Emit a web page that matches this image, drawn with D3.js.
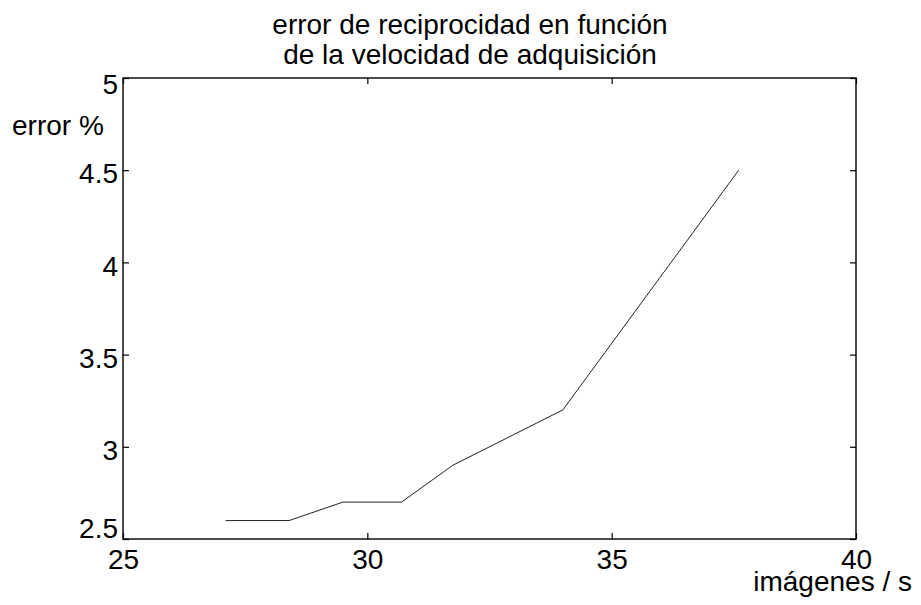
<!DOCTYPE html>
<html>
<head>
<meta charset="utf-8">
<script src="https://cdn.jsdelivr.net/npm/d3@7"></script>
<style>
  html, body { margin: 0; padding: 0; background: #fff; }
  svg { display: block; }
  text { font-family: "Liberation Sans", Arial, Helvetica, sans-serif; fill: #000; }
</style>
</head>
<body>
<script>
// ---- data ----
const xValues = [27.1, 28.4, 29.5, 30.7, 31.75, 34.0, 37.6];
const yValues = [2.6, 2.6, 2.7, 2.7, 2.9, 3.2, 4.5];
const xTicks = [25, 30, 35, 40];
const yTicks = [2.5, 3, 3.5, 4, 4.5, 5];
const titleLines = ["error de reciprocidad en función", "de la velocidad de adquisición"];
const yLabel = "error %";
const xLabel = "imágenes / s";

// ---- layout ----
const W = 921, H = 605;
const pL = 123, pR = 856, pT = 78, pB = 539;
const fontSize = 28;

const svg = d3.select("body").append("svg").attr("width", W).attr("height", H);
svg.append("rect").attr("width", W).attr("height", H).attr("fill", "#fff");

const x = d3.scaleLinear().domain([25, 40]).range([pL, pR]);
const y = d3.scaleLinear().domain([2.5, 5]).range([pB, pT]);

const tickLen = 6;

// bottom axis
const gx = svg.append("g").attr("transform", `translate(0,${pB})`)
  .call(d3.axisBottom(x).tickValues(xTicks).tickFormat(d3.format("d")).tickSizeInner(-tickLen).tickSizeOuter(0).tickPadding(0));
gx.select(".domain").remove();
gx.selectAll(".tick text").attr("y", 30).attr("dy", 0).style("font-size", fontSize + "px");

// top ticks
const gxt = svg.append("g").attr("transform", `translate(0,${pT})`)
  .call(d3.axisTop(x).tickValues(xTicks).tickFormat("").tickSizeInner(-tickLen).tickSizeOuter(0));
gxt.select(".domain").remove();

// left axis
const gy = svg.append("g").attr("transform", `translate(${pL},0)`)
  .call(d3.axisLeft(y).tickValues(yTicks).tickFormat(d => String(d)).tickSizeInner(-tickLen).tickSizeOuter(0).tickPadding(0));
gy.select(".domain").remove();
gy.selectAll(".tick text")
  .attr("x", -5)
  .attr("dy", d => d === 5 ? "0.55em" : (d === 2.5 ? "-0.05em" : "0.45em"))
  .style("font-size", fontSize + "px");

// right ticks
const gyr = svg.append("g").attr("transform", `translate(${pR},0)`)
  .call(d3.axisRight(y).tickValues(yTicks).tickFormat("").tickSizeInner(-tickLen).tickSizeOuter(0));
gyr.select(".domain").remove();

svg.selectAll(".tick line").attr("stroke", "#000").attr("stroke-width", 1.2);

// frame
svg.append("rect")
  .attr("x", pL).attr("y", pT)
  .attr("width", pR - pL).attr("height", pB - pT)
  .attr("fill", "none").attr("stroke", "#000").attr("stroke-width", 1.4);

// data line
const pts = xValues.map((v, i) => [v, yValues[i]]);
svg.append("path")
  .datum(pts)
  .attr("fill", "none")
  .attr("stroke", "#222")
  .attr("stroke-width", 1)
  .attr("d", d3.line().x(d => x(d[0])).y(d => y(d[1])));

// title
svg.append("text")
  .attr("x", 470).attr("text-anchor", "middle")
  .style("font-size", fontSize + "px")
  .selectAll("tspan").data(titleLines).join("tspan")
  .attr("x", 470)
  .attr("y", (d, i) => 34 + i * 30)
  .text(d => d);

// y label
svg.append("text")
  .attr("x", 12).attr("y", 135)
  .style("font-size", fontSize + "px")
  .text(yLabel);

// x label
svg.append("text")
  .attr("x", 912).attr("y", 591)
  .attr("text-anchor", "end")
  .style("font-size", fontSize + "px")
  .text(xLabel);
</script>
</body>
</html>
